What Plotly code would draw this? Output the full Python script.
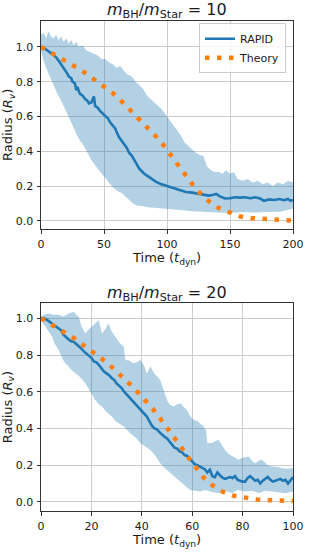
import plotly.graph_objects as go

# ---------------- data: top panel (m_BH/m_Star = 10) ----------------
t10_rapid = [0, 3, 6, 9, 12, 15, 17, 19, 21, 22, 24, 25, 27, 28, 29, 30, 31, 33, 35, 37, 38, 40, 42, 43, 45,
             47, 49, 51, 53, 55, 57, 59, 60, 62, 64, 66, 68, 70, 72, 74, 76, 78, 80, 82, 85, 88, 91, 95,
             100, 105, 110, 115, 120, 125, 130, 133, 137, 139, 142, 146, 150, 154, 158, 162, 166, 170,
             174, 177, 181, 185, 189, 193, 196, 198, 200]
r10_rapid = [1.0, 0.99, 0.975, 0.96, 0.94, 0.91, 0.89, 0.87, 0.845, 0.83, 0.82, 0.8, 0.79, 0.75, 0.77, 0.745, 0.73,
             0.72, 0.7, 0.69, 0.675, 0.68, 0.715, 0.66, 0.65, 0.63, 0.615, 0.605, 0.59, 0.565, 0.55, 0.53,
             0.51, 0.48, 0.46, 0.44, 0.42, 0.39, 0.375, 0.35, 0.325, 0.3, 0.285, 0.27, 0.255, 0.24, 0.225,
             0.212, 0.2, 0.19, 0.175, 0.165, 0.162, 0.155, 0.146, 0.145, 0.15, 0.155, 0.14, 0.128, 0.13,
             0.135, 0.133, 0.135, 0.13, 0.135, 0.128, 0.115, 0.123, 0.12, 0.125, 0.118, 0.125, 0.115, 0.12]

t10_upper = [0, 2, 4, 6, 8, 10, 12, 14, 16, 18, 20, 22, 24, 26, 28, 30, 33, 36, 39, 42, 45, 48, 51, 54, 57,
             60, 63, 66, 69, 72, 75, 78, 81, 84, 87, 90, 93, 96, 99, 102, 105, 108, 111, 114, 117, 120,
             123, 126, 129, 132, 135, 138, 141, 144, 147, 150, 153, 156, 160, 164, 168, 172, 176, 180,
             184, 188, 192, 196, 200]
r10_upper = [1.07, 1.08, 1.05, 1.09, 1.06, 1.05, 1.07, 1.04, 1.06, 1.03, 1.05, 1.02, 1.04, 1.01, 1.03, 1.0,
             1.01, 0.98, 0.97, 0.96, 0.95, 0.93, 0.93, 0.91, 0.9, 0.88, 0.89, 0.86, 0.84, 0.83, 0.8, 0.78,
             0.76, 0.72, 0.7, 0.68, 0.66, 0.64, 0.61, 0.58, 0.55, 0.52, 0.49, 0.45, 0.43, 0.41, 0.39, 0.38,
             0.37, 0.31, 0.29, 0.28, 0.28, 0.27, 0.29, 0.27, 0.28, 0.24, 0.23, 0.24, 0.22, 0.23, 0.21, 0.22,
             0.2, 0.22, 0.21, 0.23, 0.22]

t10_lower = [0, 2, 4, 7, 10, 13, 16, 19, 22, 25, 28, 31, 34, 37, 40, 43, 46, 49, 52, 55, 58, 61, 64, 67,
             70, 73, 76, 80, 85, 90, 95, 100, 105, 110, 115, 120, 125, 130, 140, 150, 160, 170, 180,
             190, 200]
r10_lower = [0.98, 0.92, 0.88, 0.82, 0.78, 0.73, 0.69, 0.645, 0.6, 0.55, 0.5, 0.46, 0.43, 0.39, 0.35, 0.32,
             0.29, 0.26, 0.235, 0.21, 0.185, 0.17, 0.16, 0.145, 0.12, 0.1, 0.088, 0.085, 0.078, 0.075,
             0.072, 0.069, 0.066, 0.062, 0.059, 0.055, 0.052, 0.05, 0.048, 0.045, 0.05, 0.047, 0.05,
             0.052, 0.07]

t10_theory = [0, 9.5, 18, 26.5, 34.4, 42.3, 49.5, 56.9, 64.3, 70.9, 77.8, 84.4, 90.7, 97.1, 102.9, 108.7,
              113.8, 119.3, 125.7, 132.8, 140.7, 149.2, 157.9, 167.2, 177, 186.8, 196.3, 200]
r10_theory = [1.0, 0.962, 0.927, 0.889, 0.854, 0.814, 0.77, 0.735, 0.685, 0.637, 0.589, 0.539, 0.489,
              0.436, 0.378, 0.324, 0.271, 0.217, 0.163, 0.115, 0.075, 0.048, 0.025, 0.015, 0.0096, 0.004,
              0.002, 0.0015]

# ---------------- data: bottom panel (m_BH/m_Star = 20) ----------------
t20_rapid = list(range(0, 101))
r20_rapid = [1.0, 1.0, 0.995, 0.985, 0.975, 0.965, 0.955, 0.945, 0.935, 0.91, 0.895, 0.885, 0.875, 0.872,
             0.86, 0.85, 0.835, 0.82, 0.81, 0.795, 0.785, 0.765, 0.76, 0.745, 0.725, 0.71, 0.7, 0.69, 0.675,
             0.665, 0.645, 0.635, 0.62, 0.6, 0.585, 0.57, 0.56, 0.545, 0.525, 0.515, 0.495, 0.48, 0.465,
             0.44, 0.415, 0.4, 0.395, 0.38, 0.365, 0.355, 0.345, 0.33, 0.31, 0.295, 0.29, 0.275, 0.27,
             0.255, 0.25, 0.235, 0.225, 0.205, 0.2, 0.19, 0.185, 0.178, 0.16, 0.175, 0.14, 0.135, 0.16,
             0.145, 0.132, 0.125, 0.13, 0.135, 0.13, 0.14, 0.12, 0.115, 0.11, 0.11, 0.13, 0.14, 0.125,
             0.115, 0.12, 0.1, 0.115, 0.125, 0.135, 0.12, 0.11, 0.115, 0.12, 0.125, 0.115, 0.12, 0.1,
             0.115, 0.135]

t20_upper = [0, 1, 3, 5, 7, 9, 11, 13, 14, 15, 16, 17.6, 19, 20.2, 22, 22.9, 24.2, 25.5, 26.8, 28, 29.5,
             31, 32.8, 33.5, 35, 36.7, 38, 39.4, 41, 42, 43.4, 45, 47.3, 48.5, 50, 51, 52.6, 54, 55.3, 56.5,
             57.9, 59, 60.6, 62, 63.2, 64.5, 65.5, 66, 67.9, 69, 70.5, 72, 73, 74.5, 75.8, 77, 78.4, 80,
             82.4, 84, 85, 86.5, 87.7, 90, 91.7, 94, 95.6, 98, 100]
r20_upper = [1.01, 1.02, 1.027, 1.02, 1.02, 1.01, 1.027, 1.036, 1.02, 1.009, 0.96, 0.918, 0.94, 0.954,
             0.98, 0.99, 0.918, 0.94, 0.973, 0.93, 0.9, 0.87, 0.846, 0.773, 0.77, 0.755, 0.76, 0.773,
             0.74, 0.7, 0.737, 0.7, 0.664, 0.62, 0.555, 0.53, 0.519, 0.53, 0.537, 0.52, 0.5, 0.47, 0.446,
             0.44, 0.428, 0.41, 0.392, 0.32, 0.32, 0.33, 0.338, 0.3, 0.283, 0.26, 0.247, 0.24, 0.229,
             0.24, 0.247, 0.22, 0.21, 0.225, 0.229, 0.2, 0.192, 0.19, 0.183, 0.18, 0.183]

t20_lower = [0, 1.7, 3, 4.4, 5.5, 7, 8.5, 9.6, 11, 12, 13.6, 15.5, 17.6, 19.5, 21.5, 23, 24.2, 26, 28.2,
             29.5, 30.8, 32.8, 35.4, 37.5, 39.4, 41.5, 43.4, 45.5, 47.3, 49, 51.3, 53, 55.3, 57, 59.2, 61,
             63.2, 65.2, 67.2, 70.5, 73, 75.8, 78, 81, 84, 86.4, 89, 91.7, 94, 97, 100]
r20_lower = [0.99, 0.954, 0.93, 0.9, 0.86, 0.828, 0.78, 0.755, 0.737, 0.72, 0.7, 0.68, 0.646, 0.6, 0.555,
             0.53, 0.519, 0.49, 0.464, 0.44, 0.428, 0.41, 0.374, 0.35, 0.32, 0.3, 0.283, 0.25, 0.21, 0.185,
             0.156, 0.135, 0.11, 0.09, 0.065, 0.06, 0.056, 0.065, 0.056, 0.047, 0.06, 0.047, 0.065, 0.056,
             0.06, 0.047, 0.06, 0.056, 0.05, 0.047, 0.056]

t20_theory = [0, 4.8, 9.0, 12.96, 16.7, 20.5, 24.2, 27.9, 31.7, 35.1, 38.3, 41.5, 44.6, 47.5, 50.4, 53.2,
              55.96, 58.7, 61.6, 64.4, 67.9, 71.96, 76.5, 81.2, 85.7, 90.5, 95.2, 100]
r20_theory = [1.0, 0.962, 0.929, 0.893, 0.855, 0.819, 0.779, 0.737, 0.69, 0.644, 0.599, 0.552, 0.503,
              0.45, 0.399, 0.345, 0.292, 0.238, 0.185, 0.134, 0.091, 0.056, 0.033, 0.02, 0.013, 0.009,
              0.005, 0.004]

titles = ["<i>m</i><sub>BH</sub>/<i>m</i><sub>Star</sub> = 10",
          "<i>m</i><sub>BH</sub>/<i>m</i><sub>Star</sub> = 20"]
x_label = "Time (<i>t</i><sub>dyn</sub>)"
y_label = "Radius (<i>R</i><sub><i>v</i></sub>)"
x_ticks = [[0, 50, 100, 150, 200], [0, 20, 40, 60, 80, 100]]
y_ticks = [0.0, 0.2, 0.4, 0.6, 0.8, 1.0]

# ---------------- styling ----------------
BLUE = "#1f77b4"
ORANGE = "#ff7f0e"
FILL = "rgba(31,119,180,0.34)"
FONT = "DejaVu Sans"
TXT = "#1a1a1a"
W, H = 324, 552
ML, MR, MT, MB = 41, 31, 21, 41
PW = W - ML - MR
PH = H - MT - MB


def ypaper(py):
    return 1 - (py - MT) / PH


def xpaper(px):
    return (px - ML) / PW


fig = go.Figure()
panels = [
    (t10_rapid, r10_rapid, t10_upper, r10_upper, t10_lower, r10_lower, t10_theory, r10_theory, "x", "y"),
    (t20_rapid, r20_rapid, t20_upper, r20_upper, t20_lower, r20_lower, t20_theory, r20_theory, "x2", "y2"),
]
for i, (tr, rr, tu, ru, tl, rl, tt, rt, xa, ya) in enumerate(panels):
    fig.add_trace(go.Scatter(x=tu + tl[::-1], y=ru + rl[::-1], fill="toself", fillcolor=FILL,
                             line=dict(width=0), mode="lines", hoverinfo="skip", showlegend=False,
                             xaxis=xa, yaxis=ya))
    fig.add_trace(go.Scatter(x=tr, y=rr, mode="lines", name="RAPID", line=dict(color=BLUE, width=2.6),
                             showlegend=(i == 0), xaxis=xa, yaxis=ya))
    fig.add_trace(go.Scatter(x=tt, y=rt, mode="lines", name="Theory",
                             line=dict(color=ORANGE, width=4.5, dash="4.5px,7.5px"),
                             showlegend=(i == 0), xaxis=xa, yaxis=ya))

axis_common = dict(showline=True, mirror=True, linecolor="#333333", linewidth=1,
                   showgrid=True, gridcolor="#cccccc", gridwidth=1, zeroline=False,
                   ticks="outside", ticklen=3.5, tickcolor="#333333", ticklabelstandoff=1,
                   automargin=False,
                   tickfont=dict(family=FONT, size=11, color=TXT))

frames = [(20.7, 229.3), (303.3, 511.3)]
top_dom = [ypaper(frames[0][1]), 1.0]
bot_dom = [0.0, ypaper(frames[1][0])]

fig.update_layout(
    template="none",
    width=W, height=H, margin=dict(l=ML, r=MR, t=MT, b=MB, autoexpand=False),
    paper_bgcolor="white", plot_bgcolor="white",
    font=dict(family=FONT, color=TXT),
    xaxis=dict(axis_common, domain=[0, 1], range=[0, 200], tickvals=x_ticks[0], anchor="y"),
    yaxis=dict(axis_common, domain=top_dom, range=[-0.049, 1.149], tickvals=y_ticks, tickformat=".1f",
               anchor="x"),
    xaxis2=dict(axis_common, domain=[0, 1], range=[0, 100], tickvals=x_ticks[1], anchor="y2"),
    yaxis2=dict(axis_common, domain=bot_dom, range=[-0.05, 1.082], tickvals=y_ticks, tickformat=".1f",
                anchor="x2"),
    legend=dict(x=xpaper(286), y=ypaper(23.3), xanchor="right", yanchor="top",
                bgcolor="rgba(255,255,255,0.8)", bordercolor="#cccccc", borderwidth=1,
                font=dict(family=FONT, size=11, color=TXT),
                itemwidth=30, tracegroupgap=0),
    showlegend=True,
)

for k, (ftop, fbot) in enumerate(frames):
    # panel title
    fig.add_annotation(text=titles[k], xref="paper", yref="paper", x=xpaper(166.7), y=ypaper(ftop - 10),
                       xanchor="center", yanchor="middle", showarrow=False,
                       font=dict(family=FONT, size=16, color=TXT))
    # x-axis label
    fig.add_annotation(text=x_label, xref="paper", yref="paper", x=xpaper(166.7), y=ypaper(fbot + 29),
                       xanchor="center", yanchor="middle", showarrow=False,
                       font=dict(family=FONT, size=13, color=TXT))
    # y-axis label
    fig.add_annotation(text=y_label, xref="paper", yref="paper", x=xpaper(8), y=ypaper((ftop + fbot) / 2),
                       xanchor="center", yanchor="middle", textangle=-90, showarrow=False,
                       font=dict(family=FONT, size=13, color=TXT))

fig.write_html("out.html", config={"displayModeBar": False},
               post_script="document.body.style.margin='0';document.body.style.overflow='hidden';")
